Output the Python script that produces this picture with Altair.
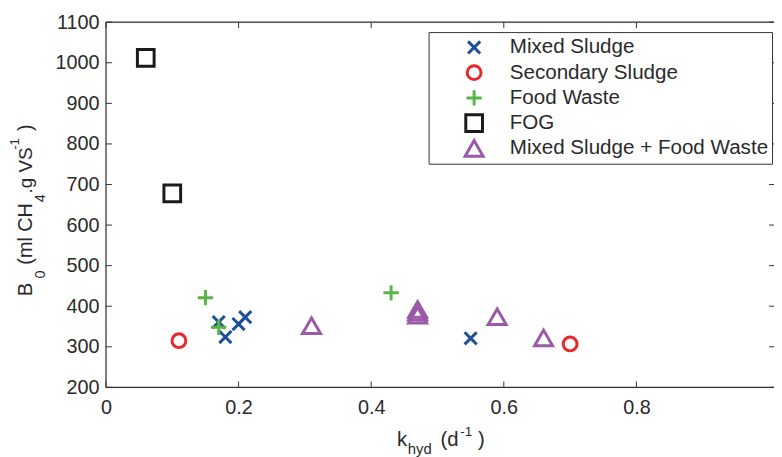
import altair as alt
import pandas as pd

# ---- data ----
groups = ["Mixed Sludge", "Secondary Sludge", "Food Waste", "FOG", "Mixed Sludge + Food Waste"]
mixed_k = [0.17, 0.18, 0.20, 0.21, 0.55]
mixed_b = [361, 324, 356, 373, 321]
secondary_k = [0.11, 0.70]
secondary_b = [315, 307]
food_k = [0.15, 0.17, 0.43]
food_b = [421, 348, 433]
fog_k = [0.06, 0.10]
fog_b = [1012, 678]
msfw_k = [0.31, 0.47, 0.47, 0.47, 0.59, 0.66]
msfw_b = [352, 392, 385, 378, 374, 322]

x_ticks = [0, 0.2, 0.4, 0.6, 0.8]
y_ticks = [200, 300, 400, 500, 600, 700, 800, 900, 1000, 1100]
x_max = 1.0075

colors = ["#1f4e9c", "#e8282c", "#58b546", "#1a1a1a", "#9a5aa6"]
shapes = ["M-1,-1L1,1M-1,1L1,-1", "circle", "M-1,0L1,0M0,-1L0,1", "square", "triangle-up"]
sizes = [150, 330, 300, 256, 650]

rows = []
for g, ks, bs in zip(groups, [mixed_k, secondary_k, food_k, fog_k, msfw_k],
                     [mixed_b, secondary_b, food_b, fog_b, msfw_b]):
    for k, b in zip(ks, bs):
        rows.append({"group": g, "k": k, "B0": b})
df = pd.DataFrame(rows)

W, H = 675, 369
FONT = "Liberation Sans"
TXT = "#2a2a2a"
FRAME = "#333"

xs = alt.Scale(domain=[0, x_max], nice=False, zero=False)
ys = alt.Scale(domain=[200, 1100], nice=False, zero=False)

leg = dict(title=None, orient="none", legendX=326, legendY=10, strokeColor="#333",
           fillColor="white", padding=3.5, labelFont=FONT, labelFontSize=20.8, labelColor=TXT,
           symbolStrokeWidth=3, symbolOffset=31.5, labelOffset=25, rowPadding=1.5,
           clipHeight=24, labelLimit=400)

points = alt.Chart(df).mark_point(filled=False, strokeWidth=3, opacity=1).encode(
    x=alt.X("k:Q", scale=xs,
            axis=alt.Axis(values=x_ticks, title=None, ticks=False, domain=False, grid=False,
                          format="~g", labelFont=FONT, labelFontSize=20, labelColor=TXT,
                          labelPadding=10, labelFlush=False)),
    y=alt.Y("B0:Q", scale=ys,
            axis=alt.Axis(values=y_ticks, title=None, ticks=False, domain=False, grid=False,
                          format="d", labelFont=FONT, labelFontSize=20, labelColor=TXT,
                          labelPadding=7, labelFlush=False)),
    color=alt.Color("group:N", scale=alt.Scale(domain=groups, range=colors),
                    legend=alt.Legend(**leg)),
    shape=alt.Shape("group:N", scale=alt.Scale(domain=groups, range=shapes),
                    legend=alt.Legend(**leg)),
    size=alt.Size("group:N", scale=alt.Scale(domain=groups, range=sizes),
                  legend=alt.Legend(**leg)),
)

xt = pd.DataFrame({"v": x_ticks})
yt = pd.DataFrame({"v": y_ticks})
tick_style = dict(color=FRAME, strokeWidth=1)
xb = alt.Chart(xt).mark_rule(**tick_style).encode(x=alt.X("v:Q", scale=xs), y=alt.value(H), y2=alt.value(H - 6))
xtp = alt.Chart(xt).mark_rule(**tick_style).encode(x=alt.X("v:Q", scale=xs), y=alt.value(0), y2=alt.value(6))
yl = alt.Chart(yt).mark_rule(**tick_style).encode(y=alt.Y("v:Q", scale=ys), x=alt.value(0), x2=alt.value(6))
yr = alt.Chart(yt).mark_rule(**tick_style).encode(y=alt.Y("v:Q", scale=ys), x=alt.value(W - 5), x2=alt.value(W))

one = pd.DataFrame({"a": [0]})
frame_style = dict(color=FRAME, strokeWidth=1.2)
f_top = alt.Chart(one).mark_rule(**frame_style).encode(x=alt.value(0), x2=alt.value(W), y=alt.value(0))
f_bot = alt.Chart(one).mark_rule(**frame_style).encode(x=alt.value(0), x2=alt.value(W), y=alt.value(H))
f_left = alt.Chart(one).mark_rule(**frame_style).encode(x=alt.value(0), y=alt.value(0), y2=alt.value(H))

def txt(s, x, y, size, angle=0):
    return alt.Chart(one).mark_text(text=s, font=FONT, fontSize=size, color=TXT, align="left",
                                    baseline="alphabetic", angle=angle).encode(x=alt.value(x), y=alt.value(y))

xtitle = (txt("k", 294, 428, 20.5) + txt("hyd", 305, 436, 15) + txt("(d", 338, 428, 20.5)
          + txt("-1", 358, 418, 13.5) + txt(")", 376, 428, 20.5))
ytitle = (txt("B", -75, 277, 20.5, 270) + txt("0", -62, 259, 14.5, 270)
          + txt("(ml CH", -75, 245, 20, 270) + txt("4", -62, 182, 14.5, 270)
          + txt(".g VS", -75, 173, 19, 270) + txt("-1", -88, 129, 13.5, 270)
          + txt(")", -75, 110, 20, 270))

chart = alt.layer(f_top, f_bot, f_left, xb, xtp, yl, yr, points, xtitle, ytitle).properties(
    width=W, height=H,
    autosize=alt.AutoSizeParams(type="none"),
    padding={"left": 99, "top": 12, "right": 0, "bottom": 68},
).configure_view(stroke=None).configure(background="white")

chart.save("out.html", embed_options={"renderer": "svg", "actions": False})
